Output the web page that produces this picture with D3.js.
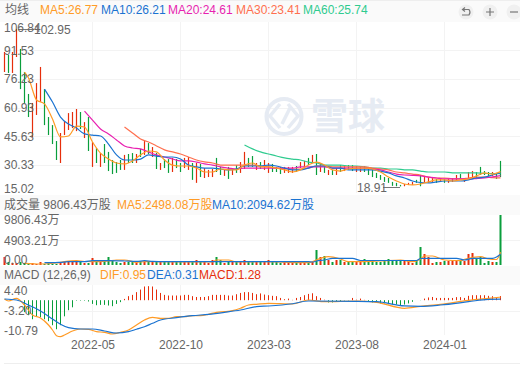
<!DOCTYPE html>
<html><head><meta charset="utf-8">
<script src="https://cdn.jsdelivr.net/npm/d3@7"></script>
<style>html,body{margin:0;padding:0;background:#fff}svg{display:block}text{font-family:"Liberation Sans","Noto Sans CJK SC",sans-serif}</style>
</head><body><svg id="c" width="520" height="366"></svg>
<script>
const priceTicks=[106.84,91.53,76.23,60.93,45.63,30.33,15.02];
const volumeTicks=[9806.43,4903.21,0];
const macdTicks=[4.40,-3.20,-10.79];
const dateLabels=["2022-05","2022-10","2023-03","2023-08","2024-01"];
const dateIndex=[22,44,66,88,110];
const directions="rgrrgggrrrggggrrrrrgrgrgrgggggrggrgrgrgrggrggrrgrgrrrggrgrgrrggrgrrgggrrrgrrgrgrgrgrgrggrrggggggggggrrrggrrrgrgrrrgrrrggggrggr".split("").slice(0,125);
const highs=[90.6,89.0,90.6,102.95,92.2,79.9,68.2,63.4,74.0,82.6,70.8,55.9,51.6,43.1,47.4,53.8,58.0,58.6,60.2,58.6,53.2,55.9,42.6,39.4,36.7,41.5,37.3,33.0,31.9,33.0,35.7,36.2,36.7,36.2,38.9,43.1,42.0,39.9,36.7,31.4,33.5,33.5,34.1,33.5,31.4,34.1,34.6,31.4,31.4,30.9,28.7,27.7,28.2,34.1,29.3,27.7,29.3,28.7,30.3,31.9,37.3,34.1,35.1,31.4,31.9,33.0,31.4,30.9,29.3,29.3,29.3,29.3,29.3,29.8,31.9,32.5,34.1,35.7,36.2,31.4,29.8,27.7,27.7,28.7,30.3,30.3,30.3,30.3,29.8,29.3,29.8,29.3,27.7,26.1,25.0,23.9,23.4,21.3,20.8,19.7,20.2,20.8,21.3,22.4,25.0,23.9,23.9,23.9,22.9,23.4,22.9,22.9,23.4,25.0,25.5,23.4,26.6,27.1,26.6,29.3,27.1,26.6,26.6,26.1,32.5];
const lows=[79.9,79.4,79.4,87.9,70.8,63.4,55.9,45.3,57.0,63.9,51.6,46.3,41.5,33.0,31.4,46.3,49.0,50.0,48.4,49.5,44.7,37.8,29.3,31.4,29.3,31.4,27.1,25.5,26.1,27.7,27.7,31.4,31.4,31.4,34.6,35.7,36.2,34.6,28.2,27.7,28.7,26.1,26.6,28.7,26.6,28.7,27.7,22.4,20.8,23.9,23.4,23.9,23.9,26.6,25.0,24.5,22.9,25.0,26.1,26.1,28.2,29.3,29.3,27.7,28.2,27.7,26.1,26.6,26.6,25.5,26.1,26.1,26.1,26.6,28.7,29.3,30.3,31.4,25.0,26.6,26.1,25.0,25.0,25.0,26.6,27.1,27.7,27.1,26.6,26.6,26.6,25.0,23.9,23.4,22.4,21.3,20.8,19.2,19.0,18.91,19.0,19.7,19.7,20.8,19.0,20.8,20.8,21.3,20.8,21.3,20.8,20.8,21.3,21.8,22.9,21.3,22.9,23.4,23.4,25.0,25.0,24.5,24.5,22.9,23.9];
const ma5=[79.9,76.7,65.0,62.9,54.9,45.3,45.8,51.1,50.6,42.6,36.7,33.5,31.4,30.9,32.5,35.7,37.8,37.3,33.0,30.3,29.8,29.8,28.7,26.6,26.6,28.2,27.7,27.7,30.3,31.4,29.3,29.3,28.7,27.7,26.6,27.7,30.3,31.9,30.3,27.7,27.1,28.2,28.7,28.7,28.2,26.6,23.9,21.8,20.2,19.7,20.2,21.3,22.4,22.4,21.8,22.4,22.9,24.5,26.1,25.5,26.77];
const ma5Index=[5,...d3.range(6,125,2)];
const ma10=[70.8,63.9,55.9,52.2,50.0,46.9,46.3,45.8,41.5,35.7,33.0,33.0,33.5,35.7,35.1,34.6,34.6,33.5,30.3,29.3,28.7,28.7,28.2,27.7,28.2,29.8,29.8,29.8,30.3,29.8,28.7,27.7,27.7,28.7,29.8,29.8,28.7,28.7,27.7,27.7,27.7,27.7,27.1,26.1,24.5,23.4,21.8,21.0,20.8,21.3,21.8,21.8,21.8,22.4,23.4,23.9,25.0,26.21];
const ma10Index=d3.range(10,125,2);
const ma20=[59.1,54.3,49.5,46.9,43.7,40.5,39.4,38.9,37.3,35.7,34.6,33.5,32.5,32.5,31.9,30.9,30.3,29.3,28.7,28.2,28.7,28.7,28.7,28.7,28.7,28.7,28.7,29.3,29.3,29.3,29.3,28.7,28.7,28.7,28.7,28.7,28.2,27.7,26.6,25.5,25.0,24.8,24.5,23.9,23.4,22.9,22.9,22.9,22.9,23.1,23.4,24.0,24.61];
const ma20Index=d3.range(20,125,2);
const ma30=[50.6,47.4,44.2,42.6,40.5,38.4,37.3,36.2,34.6,33.0,32.0,31.4,30.3,30.3,30.3,30.3,30.3,29.8,29.3,28.7,28.2,28.2,28.2,28.7,29.8,29.8,29.3,29.3,29.3,29.3,29.3,28.7,28.2,27.7,26.6,26.1,25.5,25.0,23.9,23.4,23.4,22.9,22.9,23.4,23.9,23.9,23.6,23.41];
const ma30Index=d3.range(30,125,2);
const ma60=[41.0,38.9,37.3,36.2,35.1,34.1,33.5,33.0,31.9,31.4,30.3,30.3,30.3,29.8,29.8,29.3,28.7,28.7,28.2,28.2,27.7,27.7,27.1,26.6,26.6,26.6,26.1,26.1,26.1,26.1,25.8,25.8,25.74];
const ma60Index=d3.range(60,125,2);
const volumes=[1568,588,392,392,588,392,196,392,196,588,196,392,196,196,392,588,588,588,588,588,392,392,1372,588,588,784,1568,784,588,392,588,588,588,588,784,588,588,588,784,588,588,588,588,588,588,588,588,784,980,588,588,392,980,1568,980,392,588,784,588,784,980,784,784,588,784,588,980,588,588,392,588,588,588,588,392,588,392,588,2940,1568,1764,980,588,980,980,588,784,588,588,588,1176,588,784,588,588,784,1176,784,784,784,980,784,392,784,3528,2156,1568,392,588,588,784,784,784,784,784,784,2156,2352,1372,1568,392,784,588,588,9806.43];
const volMa5Index=[5,9,13,15,18,20,24,26,28,30,33,35,37,52,53,56,58,60,64,75,76,79,81,84,86,89,94,99,102,104,105,107,110,114,115,119,121,123,124];
const volMa5=[333,196,392,647,843,686,647,784,980,980,529,647,647,588,980,980,588,588,647,451,451,1313,1627,1176,647,647,784,980,647,1176,1764,1764,980,843,1117,1627,1176,1078,2498.08];
const volMa10Index=[10,12,14,16,20,22,26,30,33,35,37,40,64,76,77,78,80,82,87,89,103,104,106,113,115,117,122,123,124];
const volMa10=[451,451,529,647,647,843,843,784,706,843,706,647,647,647,588,784,980,1313,1313,882,882,1274,1313,1313,980,1313,1313,1568,2094.62];
const macdHist=[0,0,0,0,0,-3.7,-4.65,-5.9,-5.0,-5.3,-5.9,-6.5,-7.75,-9.0,-7.75,-5.0,-3.1,-2.2,-0.15,-0.15,-0.15,-0.4,-1.15,-1.55,-1.45,-1.45,-1.65,-1.85,-1.15,-0.6,0.4,1.25,1.65,2.5,3.3,4.25,4.35,4.25,3.3,2.25,1.65,1.45,1.45,1.45,1.45,1.65,1.65,1.25,1.0,1.0,1.0,1.25,1.65,1.65,1.65,1.65,1.45,1.45,1.85,2.25,2.5,2.5,2.25,1.85,2.1,1.75,1.55,1.35,1.25,0.7,0.3,0.5,0.1,0.7,1.0,1.55,1.95,2.15,1.25,0.7,0.15,-0.7,-0.7,-0.5,-0.5,-0.1,-0.1,0.7,0.15,0.5,0.1,-0.5,-0.7,-0.85,-1.0,-1.0,-1.25,-1.35,-1.35,-1.55,-1.35,-1.0,-0.5,0,-0.05,0.5,0.85,1.0,0.7,0.7,0.7,0.7,0.7,0.95,0.95,0.7,1.35,1.55,1.55,1.55,1.55,1.35,1.25,0.95,1.28];
const difIndex=[0,1,3,5,7,9,11,12,13,14,15,17,19,21,23,25,27,29,31,33,35,37,39,41,43,45,47,49,51,53,55,57,59,61,63,66,72,76,80,88,93,100,104,109,116,121,124];
const dif=[0.37,-0.25,0.59,-1.49,-4.59,-5.52,-7.69,-9.24,-11.0,-11.3,-10.79,-9.55,-8.93,-9.02,-9.77,-9.95,-10.48,-9.95,-9.24,-7.69,-6.14,-5.3,-5.61,-5.61,-5.12,-5.12,-4.81,-4.81,-4.37,-3.75,-3.57,-3.26,-2.51,-1.49,-1.27,-0.96,-1.18,0.06,-0.47,-0.25,-0.65,-2.51,-1.89,-1.27,-0.03,0.59,0.95];
const deaIndex=[0,3,6,9,12,14,16,19,22,25,28,31,33,35,37,39,43,47,51,55,59,63,66,72,76,88,93,100,104,109,116,121,124];
const dea=[0.37,0.06,-1.49,-3.35,-5.83,-7.47,-8.53,-8.93,-8.93,-9.55,-10.17,-9.77,-9.02,-8.22,-7.16,-6.14,-5.43,-4.81,-4.37,-3.75,-3.04,-2.0,-1.8,-1.1,-0.25,-0.34,-0.47,-1.77,-1.89,-1.49,-0.47,0.28,0.31];

const RED="#e62e0b",GREEN="#0a9e3c";
const C5="#ff9b26",C10="#1a73d1",C20="#e81fb0",C30="#ff6f4e",C60="#2fcb8f";
const svg=d3.select("#c");
const x=d3.scaleLinear().domain([0,124]).range([4.5,500.5]);
const yP=d3.scaleLinear().domain([15.02,106.84]).range([193.7,21.5]);
const yV=d3.scaleLinear().domain([0,9806.43]).range([265,215]);
const yM=d3.scaleLinear().domain([-10.79,4.40]).range([335,286]);

// bands
[[0,22],[195,215],[266,285]].forEach(b=>svg.append("rect").attr("x",0).attr("y",b[0]).attr("width",520).attr("height",b[1]-b[0]).attr("fill","#fafafa"));
svg.append("line").attr("x1",0).attr("x2",520).attr("y1",0.5).attr("y2",0.5).attr("stroke","#eeeeee");
svg.append("line").attr("x1",4).attr("x2",520).attr("y1",363.5).attr("y2",363.5).attr("stroke","#eeeeee");

// grids
const grid=(s,ticks,t,b)=>{
  const g=svg.append("g").attr("stroke","#f3f3f3").attr("stroke-width",1);
  ticks.forEach(v=>g.append("line").attr("x1",4).attr("x2",520).attr("y1",Math.round(s(v))+.5).attr("y2",Math.round(s(v))+.5));
  dateIndex.forEach(i=>g.append("line").attr("x1",x(i)).attr("x2",x(i)).attr("y1",t).attr("y2",b));
};
grid(yP,priceTicks.slice(1,6),22,193);
grid(yV,[4903.21],215,265);
grid(yM,[-3.20],285,335);

// watermark
const wm=svg.append("g");
wm.append("circle").attr("cx",284).attr("cy",116.5).attr("r",17.5).attr("fill","none").attr("stroke","#e6ebf3").attr("stroke-width",4);
wm.append("path").attr("d","M280 104 L270 116 L280 128 M288 104 L298 116 L288 128 M282 124 L290 108").attr("fill","none").attr("stroke","#e6ebf3").attr("stroke-width",3.5);
wm.append("text").attr("x",311).attr("y",130).attr("font-size",37).attr("font-weight",700).attr("fill","#e6ebf3").style("font-family","'Noto Sans CJK SC'").text("雪球");

// candles
svg.append("g").selectAll("line").data(highs).join("line")
 .attr("x1",(d,i)=>x(i)).attr("x2",(d,i)=>x(i))
 .attr("y1",d=>yP(d)).attr("y2",(d,i)=>yP(lows[i]))
 .attr("stroke",(d,i)=>directions[i]==="r"?RED:GREEN).attr("stroke-width",1.2);

const curve=d3.curveMonotoneX;
const drawLine=(idx,vals,y,col,w=1.2)=>{
  const l=d3.line().x(d=>x(d[0])).y(d=>y(d[1])).curve(curve);
  svg.append("path").datum(idx.map((k,j)=>[k,vals[j]])).attr("d",l).attr("fill","none").attr("stroke",col).attr("stroke-width",w);
};
drawLine(ma60Index,ma60,yP,C60);
drawLine(ma30Index,ma30,yP,C30);
drawLine(ma20Index,ma20,yP,C20);
drawLine(ma10Index,ma10,yP,C10);
drawLine(ma5Index,ma5,yP,C5);

// low / high annotations
svg.append("text").attr("x",34).attr("y",33.5).attr("font-size",12).attr("fill","#666").text("102.95");
svg.append("line").attr("x1",383).attr("x2",400).attr("y1",187.5).attr("y2",187.5).attr("stroke","#777");
svg.append("text").attr("x",357).attr("y",192).attr("font-size",12).attr("fill","#666").text("18.91");
svg.append("line").attr("x1",18).attr("x2",34).attr("y1",29.5).attr("y2",29.5).attr("stroke","#777");

// volume
svg.append("g").selectAll("rect").data(volumes).join("rect")
 .attr("x",(d,i)=>x(i)-1).attr("width",2)
 .attr("y",d=>yV(d)).attr("height",d=>yV(0)-yV(d))
 .attr("fill",(d,i)=>directions[i]==="r"?RED:GREEN);
drawLine(volMa5Index,volMa5,yV,C5);
drawLine(volMa10Index,volMa10,yV,C10);

// macd
svg.append("g").selectAll("rect").data(macdHist).join("rect")
 .attr("x",(d,i)=>x(i)-.5).attr("width",1)
 .attr("y",d=>Math.min(yM(d),yM(0))).attr("height",d=>Math.abs(yM(d)-yM(0)))
 .attr("fill",d=>d>=0?RED:GREEN);
drawLine(difIndex,dif,yM,C5);
drawLine(deaIndex,dea,yM,C10);

// axes
const axisL=(s,ticks,fmt,shift)=>{
  const g=svg.append("g").attr("transform","translate(4,0)").call(d3.axisRight(s).tickValues(ticks).tickSize(0).tickPadding(0).tickFormat(fmt));
  g.select(".domain").remove();
  g.selectAll("text").attr("font-size",12).attr("fill","#666").style("font-family","'Liberation Sans','Noto Sans CJK SC',sans-serif").attr("dy",(d,i)=>(shift[i]+4)+"px");
};
axisL(yP,priceTicks,d=>d.toFixed(2),[6,0,0,0,0,0,-5.5]);
axisL(yV,volumeTicks,d=>d===0?"0.00":d.toFixed(2)+"万",[4,0,-6]);
axisL(yM,macdTicks,d=>d.toFixed(2),[4,0,-5]);
const ax=svg.append("g").attr("transform","translate(0,340)").call(d3.axisBottom(x).tickValues(dateIndex).tickSize(0).tickPadding(0).tickFormat((d,i)=>dateLabels[i]));
ax.select(".domain").remove();
ax.selectAll("text").attr("font-size",12).attr("fill","#666").style("font-family","'Liberation Sans',sans-serif");

// headers
const hdr=(xp,yp,t,c)=>svg.append("text").attr("x",xp).attr("y",yp).attr("font-size",12).attr("fill",c).text(t);
hdr(5,14,"均线","#666");
hdr(40,14,"MA5:26.77",C5);hdr(101,14,"MA10:26.21",C10);hdr(168,14,"MA20:24.61",C20);hdr(236,14,"MA30:23.41",C30);hdr(303,14,"MA60:25.74",C60);
hdr(4,209,"成交量 9806.43万股","#666");
hdr(117,209,"MA5:2498.08万股",C5);hdr(212,209,"MA10:2094.62万股",C10);
hdr(4,279,"MACD (12,26,9)","#666");
hdr(100,279,"DIF:0.95",C5);hdr(147,279,"DEA:0.31",C10);hdr(199,279,"MACD:1.28",RED);

// toolbar
[466,490,514].forEach(cx=>svg.append("circle").attr("cx",cx).attr("cy",12).attr("r",7.5).attr("fill","#f0f0f0"));
const tb=svg.append("g").attr("stroke","#777").attr("stroke-width",1.2).attr("fill","none");
tb.append("path").attr("d","M463 9.5 H469 Q471 12 469 15 H462 M465 7.5 L462.5 9.5 L465 11.5");
tb.append("path").attr("d","M486 12 H494 M490 8 V16");
tb.append("path").attr("d","M510 12 H518");
</script></body></html>
